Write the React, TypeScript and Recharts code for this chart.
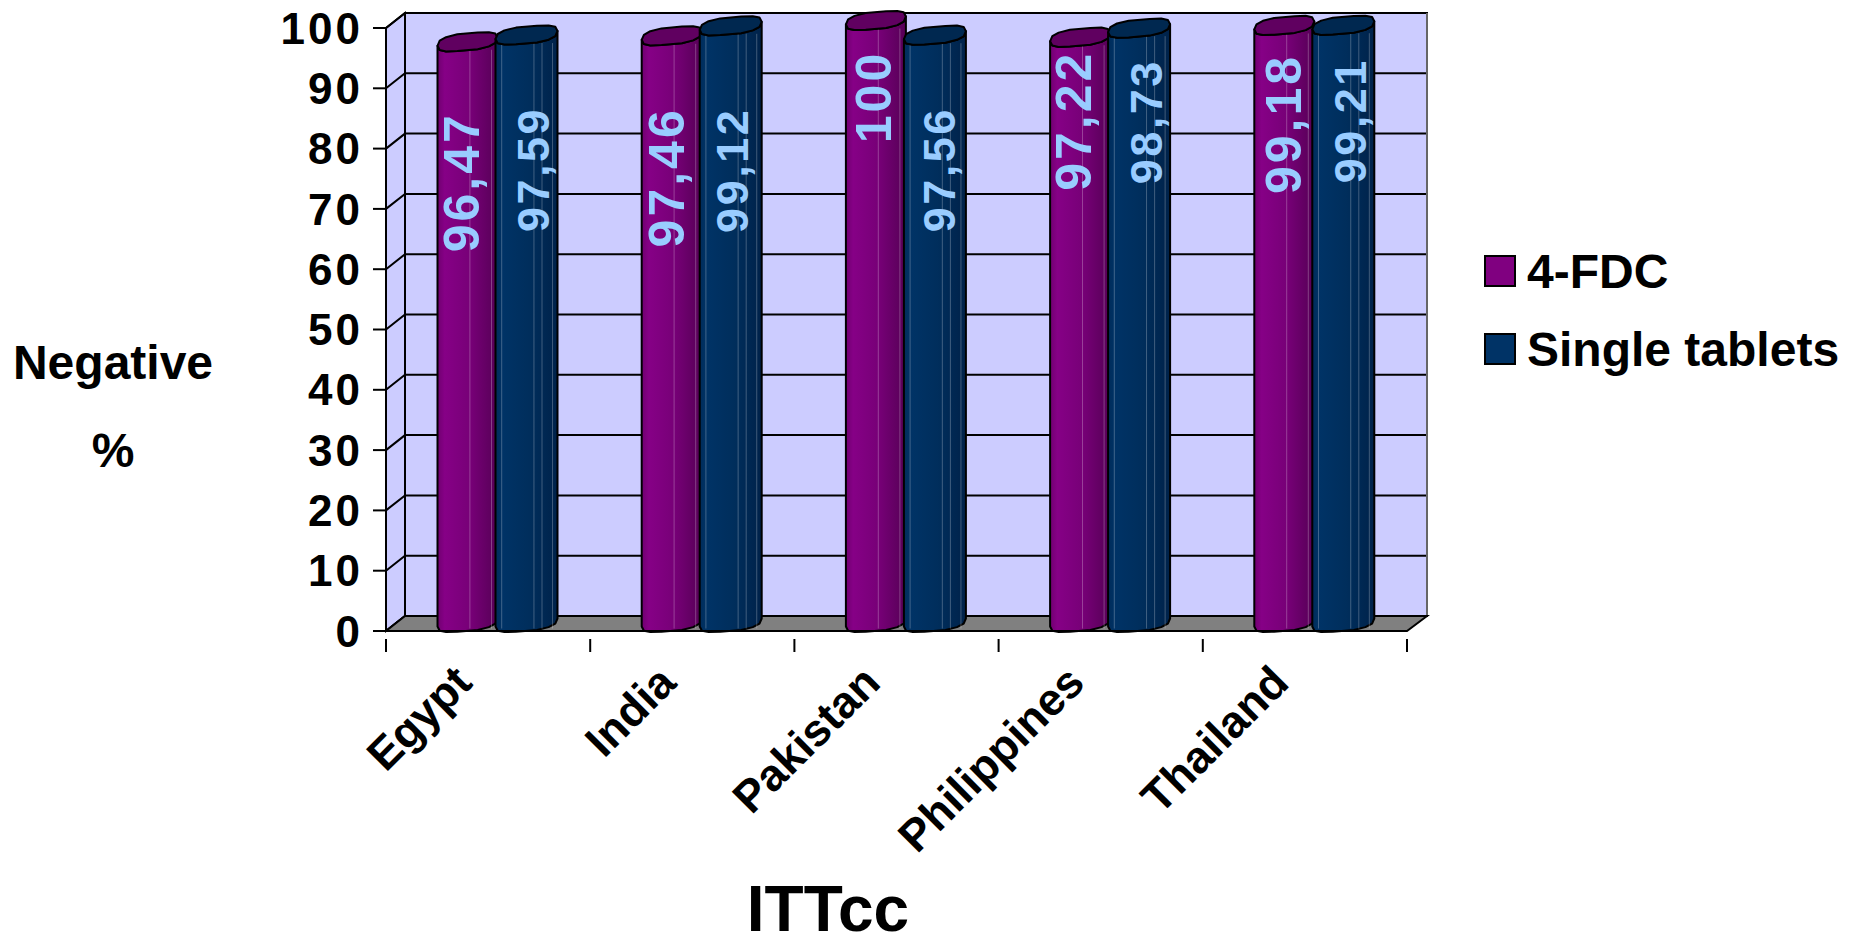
import { Bar, BarChart, LabelList, Legend, XAxis, YAxis, usePlotArea } from "recharts";

const countries = ["Egypt", "India", "Pakistan", "Philippines", "Thailand"];
const fdc = [96.47, 97.46, 100, 97.22, 99.18];
const singleTablets = [97.59, 99.12, 97.56, 98.73, 99.21];
const yTicks = [0, 10, 20, 30, 40, 50, 60, 70, 80, 90, 100];

// hand-placed value labels: distance below the bar top, and sideways from the bar centre
const fdcLabelDrop = [133, 134, 69, 76, 91];
const fdcLabelShift = [-5, -5, -2, -6, 0];
const singleLabelDrop = [127, 137, 127, 86, 88];
const singleLabelShift = [6, 1, 4, 6, 6];

const chartData = countries.map((country, i) => ({
  country,
  fdc: fdc[i],
  single: singleTablets[i],
}));

const FONT = "'Liberation Sans', Arial, sans-serif";
const DEPTH_X = 19;
const DEPTH_Y = 15;
const WALL = "#ccccff";

function formatValue(v: number) {
  return String(v).replace(".", ",");
}

// the chart's box: walls, gridlines and floor sit one depth step behind the front axes
function Walls() {
  const plot = usePlotArea();
  if (!plot) return null;
  const { x, y, width, height } = plot;
  const bottom = y + height;
  const right = x + width;
  return (
    <g>
      <polygon
        points={`${x},${y} ${x + DEPTH_X},${y - DEPTH_Y} ${x + DEPTH_X},${bottom - DEPTH_Y} ${x},${bottom}`}
        fill={WALL}
        stroke="#000"
        strokeWidth={2}
      />
      <rect x={x + DEPTH_X} y={y - DEPTH_Y} width={width + 1} height={height} fill={WALL} stroke="#000" strokeWidth={2} />
      {yTicks.map((t) => {
        const ly = bottom - (height * t) / 100;
        return (
          <path
            key={t}
            d={`M${x},${ly} L${x + DEPTH_X},${ly - DEPTH_Y} L${right + DEPTH_X + 1},${ly - DEPTH_Y}`}
            fill="none"
            stroke="#000"
            strokeWidth={2}
          />
        );
      })}
      <line
        x1={right + DEPTH_X + 1}
        y1={y - DEPTH_Y}
        x2={right + DEPTH_X + 1}
        y2={bottom - DEPTH_Y}
        stroke="#666"
        strokeWidth={2}
      />
      <polygon
        points={`${x},${bottom} ${x + DEPTH_X},${bottom - DEPTH_Y} ${right + DEPTH_X + 1},${bottom - DEPTH_Y} ${right},${bottom}`}
        fill="#808080"
        stroke="#000"
        strokeWidth={2}
      />
    </g>
  );
}

// a squared-off, sheared ellipse, sampled coarsely so the outline keeps a faceted look
function rimPoints(cx: number, cy: number, rx: number, from: number, to: number, steps: number) {
  const soft = (n: number) => Math.sign(n) * Math.pow(Math.abs(n), 0.72);
  const pts: string[] = [];
  for (let i = 0; i <= steps; i++) {
    const t = from + ((to - from) * i) / steps;
    const c = Math.cos(t);
    const px = cx + rx * soft(c);
    const py = cy + 8.5 * soft(Math.sin(t)) - 4 * c;
    pts.push(`${px.toFixed(1)},${py.toFixed(1)}`);
  }
  return pts;
}

function Cylinder(props: any) {
  const { x, y, width, height, gradient, cap, facets, grow = 0 } = props;
  const left = x + DEPTH_X / 2 - grow;
  const w = width + grow;
  const rx = w / 2;
  const cx = left + rx;
  const topY = y - DEPTH_Y / 2;
  const bottomY = y + height - DEPTH_Y / 2 - 1;
  // body runs along the lower half of the top rim and the lower half of the base rim
  const topFront = rimPoints(cx, topY, rx, Math.PI, 0, 7);
  const base = rimPoints(cx, bottomY, rx, 0, Math.PI, 7);
  return (
    <g>
      <polygon
        points={[...base, ...topFront].join(" ")}
        fill={`url(#${gradient})`}
        stroke="#000"
        strokeWidth={2}
        strokeLinejoin="round"
      />
      {facets.map((f: number) => (
        <line
          key={f}
          x1={left + w * f}
          x2={left + w * f}
          y1={topY + 8}
          y2={bottomY + 6}
          stroke="#fff"
          strokeOpacity={0.25}
        />
      ))}
      <polygon
        points={rimPoints(cx, topY, rx, 0, Math.PI * 2, 14).join(" ")}
        fill={cap}
        stroke="#000"
        strokeWidth={2}
        strokeLinejoin="round"
      />
    </g>
  );
}

function valueLabel(drops: number[], shifts: number[], fontSize: number, spacing: number) {
  return function ValueLabel(props: any) {
    const { x, y, width, value, index } = props;
    const cx = x + width / 2 + DEPTH_X / 2 + shifts[index];
    const cy = y + drops[index];
    return (
      <text
        x={cx}
        y={cy}
        transform={`rotate(-90 ${cx} ${cy})`}
        textAnchor="middle"
        dominantBaseline="central"
        fill="#99ccff"
        fontFamily={FONT}
        fontWeight="bold"
        fontSize={fontSize}
        letterSpacing={spacing}
      >
        {formatValue(value)}
      </text>
    );
  };
}

function CountryTick(props: any) {
  const { x, y, payload } = props;
  const band = 1021 / countries.length;
  const tickX = x - band / 2;
  const isLast = payload.index === countries.length - 1;
  const lx = x - 25;
  const ly = y + 35;
  return (
    <g>
      <line x1={tickX} x2={tickX} y1={y} y2={y + 13} stroke="#000" strokeWidth={2} />
      {isLast && <line x1={x + band / 2} x2={x + band / 2} y1={y} y2={y + 13} stroke="#000" strokeWidth={2} />}
      <text
        x={lx}
        y={ly}
        transform={`rotate(-45 ${lx} ${ly})`}
        textAnchor="end"
        dominantBaseline="central"
        fontFamily={FONT}
        fontWeight="bold"
        fontSize={45}
        fill="#000"
      >
        {payload.value}
      </text>
    </g>
  );
}

function LegendBox({ payload }: any) {
  return (
    <div style={{ fontFamily: FONT, fontWeight: "bold", fontSize: 48, color: "#000" }}>
      {(payload || []).map((item: any) => (
        <div key={item.value} style={{ display: "flex", alignItems: "center", height: 78, whiteSpace: "nowrap" }}>
          <span
            style={{
              display: "inline-block",
              width: 28,
              height: 28,
              marginRight: 11,
              background: item.color,
              border: "2px solid #000",
            }}
          />
          {item.value}
        </div>
      ))}
    </div>
  );
}

export default function App() {
  return (
    <div style={{ position: "absolute", left: 0, top: 0, width: 1856, height: 934, overflow: "hidden", background: "#fff" }}>
      <BarChart
        width={1856}
        height={934}
        data={chartData}
        margin={{ top: 28, right: 449, bottom: 203, left: 286 }}
        barCategoryGap={42}
        barGap={0}
      >
        <defs>
          <linearGradient id="fdcBody" x1="0" y1="0" x2="1" y2="0">
            <stop offset="0%" stopColor="#700070" />
            <stop offset="12%" stopColor="#860086" />
            <stop offset="55%" stopColor="#770077" />
            <stop offset="100%" stopColor="#560056" />
          </linearGradient>
          <linearGradient id="singleBody" x1="0" y1="0" x2="1" y2="0">
            <stop offset="0%" stopColor="#002c5a" />
            <stop offset="12%" stopColor="#003366" />
            <stop offset="55%" stopColor="#002e5c" />
            <stop offset="100%" stopColor="#00224a" />
          </linearGradient>
        </defs>
        <Walls />
        <XAxis
          dataKey="country"
          height={100}
          axisLine={{ stroke: "#000", strokeWidth: 2 }}
          tickLine={false}
          interval={0}
          tick={CountryTick}
        />
        <YAxis
          width={100}
          domain={[0, 100]}
          ticks={yTicks}
          interval={0}
          tickSize={13}
          tickMargin={10}
          axisLine={{ stroke: "#000", strokeWidth: 2 }}
          tickLine={{ stroke: "#000", strokeWidth: 2 }}
          tick={{ fontFamily: FONT, fontWeight: "bold", fontSize: 44, fill: "#000", letterSpacing: 3 }}
        />
        <Bar
          dataKey="fdc"
          name="4-FDC"
          fill="#800080"
          isAnimationActive={false}
          shape={(p: any) => <Cylinder {...p} gradient="fdcBody" cap="#600060" facets={[0.54, 0.9]} />}
        >
          <LabelList dataKey="fdc" content={valueLabel(fdcLabelDrop, fdcLabelShift, 50, 3)} />
        </Bar>
        <Bar
          dataKey="single"
          name="Single tablets"
          fill="#003366"
          isAnimationActive={false}
          shape={(p: any) => <Cylinder {...p} gradient="singleBody" cap="#002850" facets={[0.1, 0.62, 0.75, 0.92]} grow={2} />}
        >
          <LabelList dataKey="single" content={valueLabel(singleLabelDrop, singleLabelShift, 45, 2.5)} />
        </Bar>
        <Legend
          layout="horizontal"
          verticalAlign="middle"
          align="center"
          content={LegendBox}
          wrapperStyle={{ left: 1484, top: 232, width: 372 }}
        />
        <text x={113} y={379} textAnchor="middle" fontFamily={FONT} fontWeight="bold" fontSize={48}>
          Negative
        </text>
        <text x={113} y={467} textAnchor="middle" fontFamily={FONT} fontWeight="bold" fontSize={48}>
          %
        </text>
        <text x={828} y={931} textAnchor="middle" fontFamily={FONT} fontWeight="bold" fontSize={64}>
          ITTcc
        </text>
      </BarChart>
    </div>
  );
}
